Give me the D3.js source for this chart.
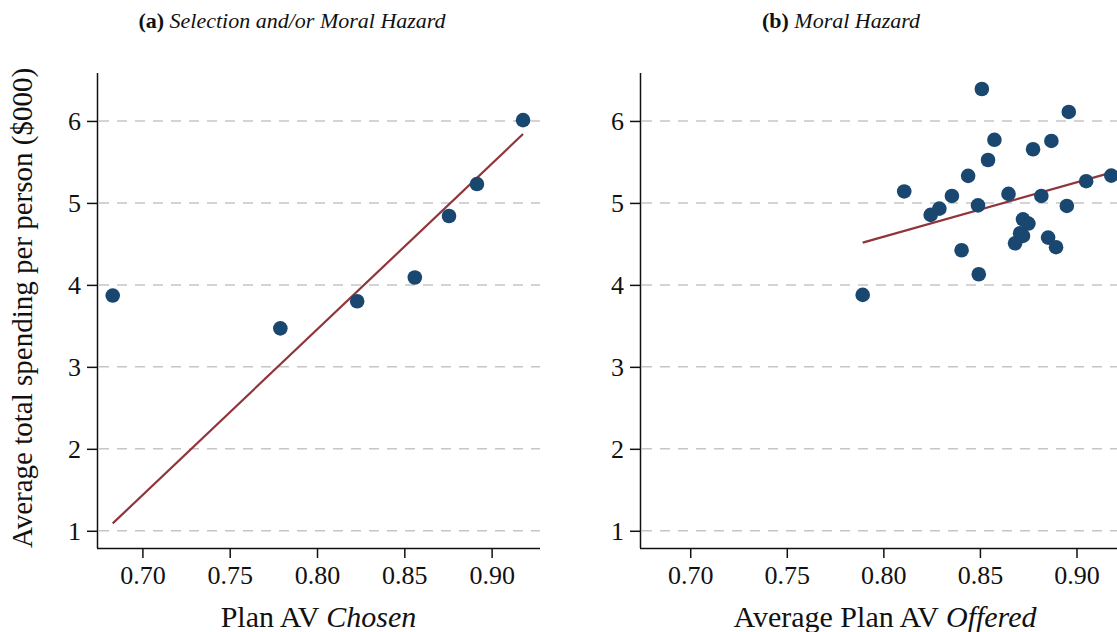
<!DOCTYPE html>
<html>
<head>
<meta charset="utf-8">
<script src="https://cdn.jsdelivr.net/npm/d3@7"></script>
<style>
  body { margin: 0; background: #fff; overflow: hidden; }
  svg { display: block; }
  text { font-family: "Liberation Serif", "Times New Roman", serif; fill: #111; }
</style>
</head>
<body>
<div id="chart"></div>
<script>
// panel (a): plan AV chosen vs spending
var chosenAV = [0.683, 0.779, 0.823, 0.856, 0.8756, 0.8916, 0.918];
var chosenSpend = [3.87, 3.47, 3.80, 4.09, 4.84, 5.23, 6.01];
var chosenFitAV = [0.683, 0.918];
var chosenFitSpend = [1.09, 5.84];

// panel (b): average plan AV offered vs spending
var offeredAV = [0.851, 0.896, 0.8575, 0.887, 0.8775, 0.8542, 0.8439, 0.8108, 0.8355,
    0.8648, 0.8818, 0.905, 0.918, 0.849, 0.829, 0.8245, 0.895, 0.8723, 0.8751, 0.8708,
    0.8723, 0.8682, 0.8853, 0.8894, 0.8405, 0.8494, 0.7893];
var offeredSpend = [6.39, 6.11, 5.77, 5.756, 5.655, 5.524, 5.33, 5.14, 5.085,
    5.11, 5.085, 5.265, 5.333, 4.97, 4.93, 4.854, 4.963, 4.80, 4.748, 4.63,
    4.598, 4.508, 4.577, 4.46, 4.423, 4.13, 3.878];
var offeredFitAV = [0.7893, 0.918];
var offeredFitSpend = [4.516, 5.37];

var xTicks = [0.70, 0.75, 0.80, 0.85, 0.90];
var yTicks = [1, 2, 3, 4, 5, 6];

var W = 1117, H = 632;
var svg = d3.select("#chart").append("svg")
    .attr("width", W)
    .attr("height", H);

var navy = "#1a476f", maroon = "#90353b";
var serif = "'Liberation Serif', 'Times New Roman', serif";

function panel(opt) {
    var x = d3.scaleLinear().domain([0.674, 0.9277]).range([opt.left, opt.right]);
    var y = d3.scaleLinear().domain([0.79, 6.585]).range([548, 73]);
    var g = svg.append("g");

    // dashed gridlines
    g.selectAll(".grid").data(yTicks).enter()
        .append("line")
        .attr("x1", opt.left + 2)
        .attr("x2", opt.right)
        .attr("y1", function(d) { return y(d); })
        .attr("y2", function(d) { return y(d); })
        .attr("stroke", "#c6c6c6")
        .attr("stroke-width", 1.5)
        .attr("stroke-dasharray", "10,8");

    // y axis
    var yAxis = g.append("g")
        .attr("transform", "translate(" + opt.left + ",0)")
        .call(d3.axisLeft(y).tickValues(yTicks).tickSize(10).tickPadding(6)
            .tickFormat(d3.format("d")));
    // x axis
    var xAxis = g.append("g")
        .attr("transform", "translate(0,548)")
        .call(d3.axisBottom(x).tickValues(xTicks).tickSize(10).tickPadding(8)
            .tickFormat(d3.format(".2f")));
    [yAxis, xAxis].forEach(function(a) {
        a.attr("font-family", null);
        a.select(".domain").attr("stroke", "#111").attr("stroke-width", 1.5);
        a.selectAll(".tick line").attr("stroke", "#111").attr("stroke-width", 1.5);
        a.selectAll(".tick text").attr("font-size", 26)
            .style("font-family", serif).attr("fill", "#111");
    });
    xAxis.select(".domain").attr("d", "M" + opt.left + ",0.5H" + opt.right);
    yAxis.select(".domain").attr("d", "M0.5,548V73");

    // fit line
    var fit = opt.fitX.map(function(d, i) { return [d, opt.fitY[i]]; });
    g.append("path")
        .datum(fit)
        .attr("fill", "none")
        .attr("stroke", maroon)
        .attr("stroke-width", 2.2)
        .attr("d", d3.line()
            .x(function(d) { return x(d[0]); })
            .y(function(d) { return y(d[1]); }));

    // points
    var pts = opt.xs.map(function(d, i) { return [d, opt.ys[i]]; });
    g.selectAll(".pt").data(pts).enter()
        .append("circle")
        .attr("cx", function(d) { return x(d[0]); })
        .attr("cy", function(d) { return y(d[1]); })
        .attr("r", 7.3)
        .attr("fill", navy);

    // x axis title
    var xt = g.append("text")
        .attr("x", (opt.left + opt.right) / 2)
        .attr("y", 627)
        .attr("text-anchor", "middle")
        .attr("font-size", 30);
    xt.append("tspan").text(opt.xLabel);
    xt.append("tspan").attr("font-style", "italic").text(opt.xLabelIt);

    // panel title
    var tt = g.append("text")
        .attr("x", opt.titleX)
        .attr("y", 28)
        .attr("text-anchor", "middle")
        .attr("font-size", 22);
    tt.append("tspan").attr("font-weight", "bold").text(opt.tag + " ");
    tt.append("tspan").attr("font-style", "italic").text(opt.title);
}

panel({left: 97, right: 540, xs: chosenAV, ys: chosenSpend,
    fitX: chosenFitAV, fitY: chosenFitSpend,
    xLabel: "Plan AV ", xLabelIt: "Chosen",
    tag: "(a)", title: "Selection and/or Moral Hazard", titleX: 292});

panel({left: 640, right: 1130, xs: offeredAV, ys: offeredSpend,
    fitX: offeredFitAV, fitY: offeredFitSpend,
    xLabel: "Average Plan AV ", xLabelIt: "Offered",
    tag: "(b)", title: "Moral Hazard", titleX: 841});

// shared y axis title
svg.append("text")
    .attr("transform", "translate(32,308) rotate(-90)")
    .attr("text-anchor", "middle")
    .attr("font-size", 29)
    .text("Average total spending per person ($000)");
</script>
</body>
</html>
